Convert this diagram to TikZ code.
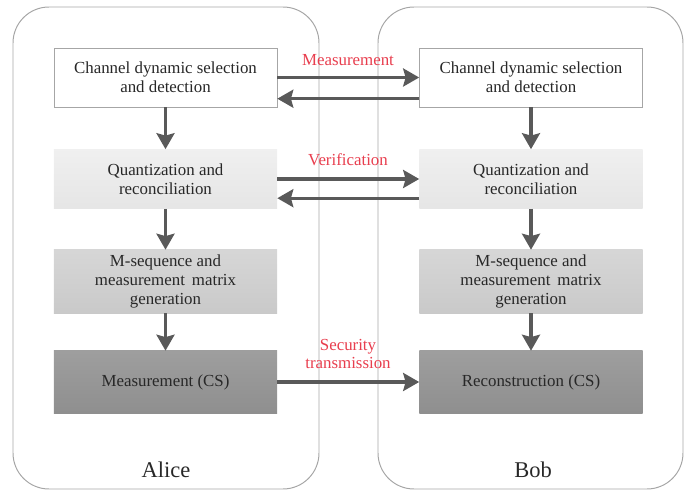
\documentclass[tikz,border=0pt]{standalone}
\usepackage{fontspec}
\setmainfont{Liberation Serif}
\usepackage{tikz}
\usetikzlibrary{arrows.meta,positioning,calc}
\definecolor{framegray}{RGB}{166,166,166}
\definecolor{arrowgray}{RGB}{89,89,89}
\definecolor{labelred}{RGB}{232,62,78}
\definecolor{textgray}{RGB}{40,40,40}

\tikzset{
  party/.style={draw=framegray, line width=0.7pt, rounded corners=0.9cm},
  stagebox/.style={minimum width=5.575cm, align=center, text=textgray,
    font=\fontsize{12}{13.5}\selectfont, inner sep=2pt},
  flow/.style={-{Stealth[length=0.4cm, width=0.45cm, inset=0.06cm]}, arrowgray, line width=2.2pt},
  msg/.style={labelred, font=\fontsize{12}{13.5}\selectfont, align=center}
}

\begin{document}
\begin{tikzpicture}[x=0.025cm, y=-0.025cm]
    \useasboundingbox (0,0) rectangle (686,491);
    % Containers
    \draw[party] (13,7) rectangle (319,489);
    \draw[party] (378,7) rectangle (683,489);
    \node[font=\fontsize{16}{18}\selectfont, text=textgray] (alice) at (166,470) {Alice};
    \node[font=\fontsize{16}{18}\selectfont, text=textgray] (bob) at (533,470) {Bob};
    % Alice side
    \node[stagebox, draw=framegray, fill=white, minimum height=1.475cm] (A1) at (165.5,77.5)
      {Channel dynamic selection\\and detection};
    \node[stagebox, top color=gray!12, bottom color=gray!20, minimum height=1.475cm] (A2) at (165.5,179)
      {Quantization and\\reconciliation};
    \node[stagebox, top color=gray!32, bottom color=gray!42, minimum height=1.575cm] (A3) at (165.5,281.5)
      {M-sequence and\\measurement\, matrix\\generation};
    \node[stagebox, top color=gray!76, bottom color=gray!88, minimum height=1.55cm] (A4) at (165.5,382)
      {Measurement (CS)};
    % Bob side
    \node[stagebox, draw=framegray, fill=white, minimum height=1.475cm] (B1) at (531,77.5)
      {Channel dynamic selection\\and detection};
    \node[stagebox, top color=gray!12, bottom color=gray!20, minimum height=1.475cm] (B2) at (531,179)
      {Quantization and\\reconciliation};
    \node[stagebox, top color=gray!32, bottom color=gray!42, minimum height=1.575cm] (B3) at (531,281.5)
      {M-sequence and\\measurement\, matrix\\generation};
    \node[stagebox, top color=gray!76, bottom color=gray!88, minimum height=1.55cm] (B4) at (531,382)
      {Reconstruction (CS)};
    % Vertical flow
    \draw[flow] (A1) -- (A2);
    \draw[flow] (A2) -- (A3);
    \draw[flow] (A3) -- (A4);
    \draw[flow] (B1) -- (B2);
    \draw[flow] (B2) -- (B3);
    \draw[flow] (B3) -- (B4);
    % Exchanges
    \draw[flow] (A1.east) -- (B1.west);
    \draw[flow] ([yshift=-0.53cm]B1.west) -- ([yshift=-0.53cm]A1.east);
    \draw[flow] (A2.east) -- (B2.west);
    \draw[flow] ([yshift=-0.48cm]B2.west) -- ([yshift=-0.48cm]A2.east);
    \draw[flow] (A4.east) -- (B4.west);
    % Labels
    \node[msg] (m1) at (348,60) {Measurement};
    \node[msg] (m2) at (348,160) {Verification};
    \node[msg] (m3) at (348,354) {Security\\transmission};
\end{tikzpicture}
\end{document}
